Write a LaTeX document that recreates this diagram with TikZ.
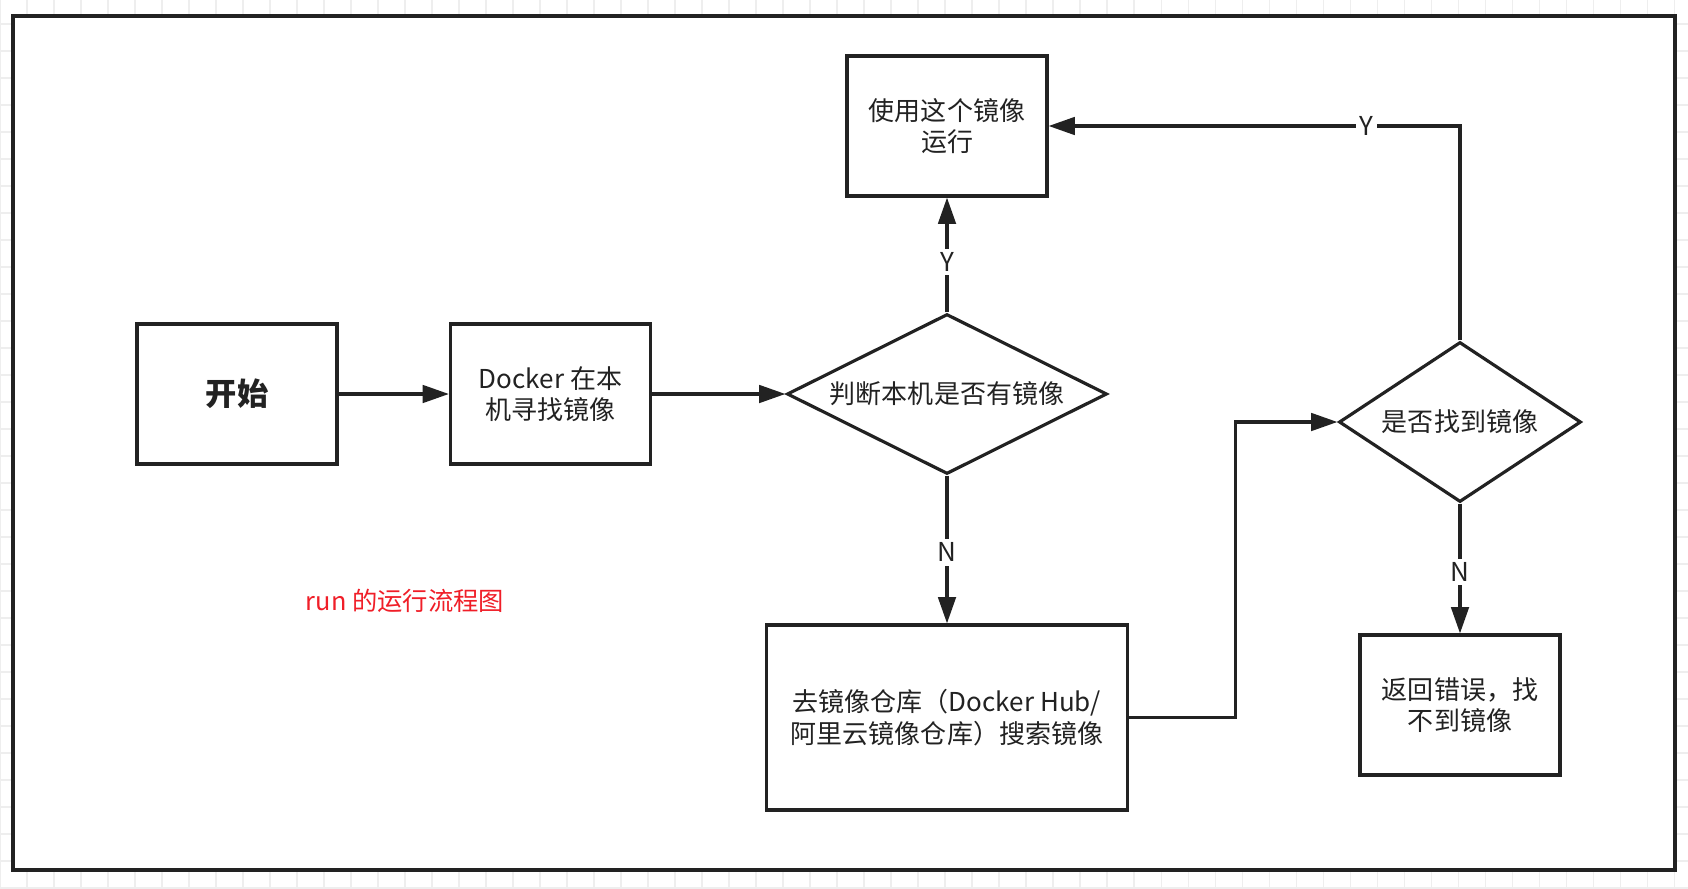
\documentclass[tikz,border=0pt]{standalone}
\usepackage{fontspec}
\newfontfamily\cjk{Noto Sans CJK SC}
\usepackage{xcolor}
\definecolor{flowink}{RGB}{34,34,34}
\definecolor{flowred}{RGB}{240,30,40}
\definecolor{gridgray}{RGB}{238,238,238}
\usetikzlibrary{arrows.meta, shapes.geometric}

\begin{document}
\begin{tikzpicture}[
  box/.style={draw=flowink, line width=0.9pt, text=flowink, align=center,
              font=\cjk\fontsize{7.4}{9}\selectfont,
              minimum width=2cm, minimum height=1.4cm, inner sep=2pt},
  decision/.style={draw=flowink, line width=0.9pt, diamond, aspect=2, text=flowink,
                   font=\cjk\fontsize{7.4}{9}\selectfont, inner sep=0pt},
  flow/.style={draw=flowink, line width=0.9pt, -{Triangle[length=7.5pt, width=5pt]}},
  yn/.style={fill=white, text=flowink, font=\cjk\fontsize{7.4}{9}\selectfont, inner sep=1pt}
]

% --- Canvas, grid and frame ---
\useasboundingbox (0,0) rectangle (16.88,8.88);
\draw[gridgray, line width=0.3pt, step=0.27] (0,0) grid (16.88,8.88);
\draw[flowink, line width=1.1pt, fill=white] (0.13,0.18) rectangle (16.75,8.72);

% --- Main row ---
\node[box, font=\cjk\bfseries\fontsize{8.9}{10}\selectfont] (start) at (2.37,4.94) {开始};
\node[box] (local) at (5.505,4.94) {Docker 在本\\机寻找镜像};
\node[decision, minimum width=3.2cm, minimum height=1.6cm] (haslocal) at (9.47,4.94) {判断本机是否有镜像};

% Run the image
\node[box] (run) at (9.47,7.62) {使用这个镜像\\运行};

% Search the registry
\node[box, minimum width=3.61cm, minimum height=1.85cm] (search) at (9.47,1.705)
     {去镜像仓库（Docker Hub/\\阿里云镜像仓库）搜索镜像};

% --- Right column ---
\node[decision, minimum width=2.42cm, minimum height=1.6cm] (found) at (14.6,4.66) {是否找到镜像};
\node[box] (error) at (14.6,1.83) {返回错误，找\\不到镜像};

% Caption
\node[font=\cjk\fontsize{7.2}{9}\selectfont, text=flowred] (caption) at (4.05,2.87) {run 的运行流程图};

% --- Connectors ---
\draw[flow] (start.east) -- (local.west);
\draw[flow] (local.east) -- (haslocal.west);
\draw[flow] (haslocal.north) -- node[yn, pos=0.44] {Y} (run.south);
\draw[flow] (haslocal.south) -- node[yn, pos=0.52] {N} (search.north);
\draw[flow] (search.east) -- ++(1.06,0) |- (found.west);
\draw[flow] (found.north) |- node[yn, pos=0.614] {Y} (run.east);
\draw[flow] (found.south) -- node[yn, pos=0.53] {N} (error.north);

\end{tikzpicture}
\end{document}
